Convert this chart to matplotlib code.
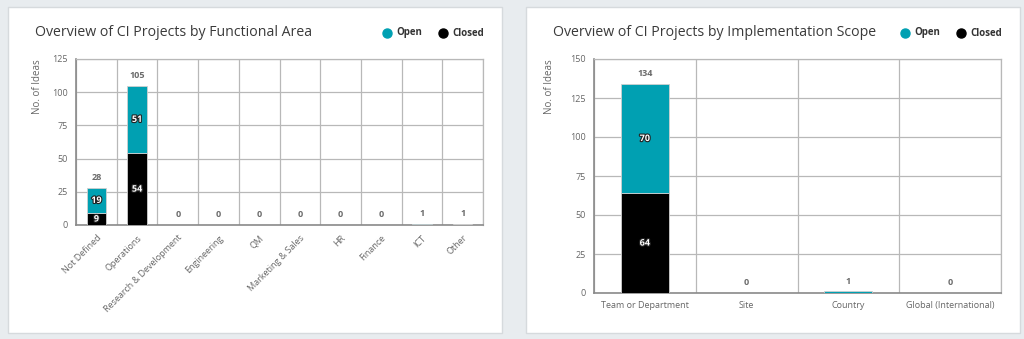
import matplotlib
matplotlib.use("Agg")
import matplotlib.pyplot as plt
from matplotlib.patches import Rectangle
import matplotlib.patheffects as pe
import numpy as np

plt.rcParams['font.family'] = ['Open Sans', 'DejaVu Sans']

# ---- data ----
area_categories = ["Not Defined", "Operations", "Research & Development", "Engineering", "QM",
                   "Marketing & Sales", "HR", "Finance", "ICT", "Other"]
area_closed = [9, 54, 0, 0, 0, 0, 0, 0, 0, 1]
area_open = [19, 51, 0, 0, 0, 0, 0, 0, 1, 0]
area_yticks = [0, 25, 50, 75, 100, 125]

scope_categories = ["Team or Department", "Site", "Country", "Global (International)"]
scope_closed = [64, 0, 0, 0]
scope_open = [70, 0, 1, 0]
scope_yticks = [0, 25, 50, 75, 100, 125, 150]

titles = ["Overview of CI Projects by Functional Area", "Overview of CI Projects by Implementation Scope"]
series_names = ["Open", "Closed"]

OPEN_C = "#00a0b2"
CLOSED_C = "#000000"
GRID_C = "#b8b8b8"
TXT_C = "#666666"

W, H = 1024, 339
fig = plt.figure(figsize=(W / 100, H / 100), dpi=100)
fig.patch.set_facecolor("#e8ecef")

def px_rect(x0, y0, x1, y1):
    return [x0 / W, (H - y1) / H, (x1 - x0) / W, (y1 - y0) / H]

# panels
for (x0, x1) in [(8, 502), (526, 1020)]:
    fig.patches.append(Rectangle((x0 / W, (H - 333) / H), (x1 - x0) / W, (333 - 7) / H,
                                 transform=fig.transFigure, facecolor="white",
                                 edgecolor="#d6dadd", linewidth=1.0, zorder=-5))

def draw(ax_rect, cats, closed, opn, yticks, rotate, title, title_x, leg_x, ylab_x):
    ax = fig.add_axes(px_rect(*ax_rect), zorder=2)
    ax.set_facecolor("white")
    n = len(cats)
    x = np.arange(n)
    w = 0.47
    total = [c + o for c, o in zip(closed, opn)]
    ax.bar(x, closed, w, color=CLOSED_C, edgecolor="#cfcfcf", linewidth=0.6, zorder=3)
    ax.bar(x, opn, w, bottom=closed, color=OPEN_C, edgecolor="#cfcfcf", linewidth=0.6, zorder=3)
    ymax = yticks[-1]
    ax.set_xlim(-0.5, n - 0.5)
    ax.set_ylim(0, ymax)
    ax.set_yticks(yticks)
    ax.set_xticks(x)
    if rotate:
        ax.set_xticklabels(cats, rotation=45, ha="right", rotation_mode="anchor")
    else:
        ax.set_xticklabels(cats)
    ax.tick_params(axis="both", length=0, labelsize=6.5, colors=TXT_C, pad=6)
    ax.set_xticks(np.arange(n + 1) - 0.5, minor=True)
    ax.grid(True, which="minor", axis="x", color=GRID_C, linewidth=0.9, zorder=1)
    ax.grid(True, which="major", axis="y", color=GRID_C, linewidth=0.9, zorder=1)
    ax.set_axisbelow(True)
    ax.tick_params(which="minor", length=0)
    for s in ["top", "right"]:
        ax.spines[s].set_color(GRID_C)
        ax.spines[s].set_linewidth(0.9)
    for s in ["left", "bottom"]:
        ax.spines[s].set_color("#8a8a8a")
        ax.spines[s].set_linewidth(1.2)
    # labels
    fx = [pe.withStroke(linewidth=1.6, foreground="#222222")]
    for i in range(n):
        ax.annotate(str(total[i]), (x[i], total[i]), xytext=(0, 4), textcoords="offset points",
                    ha="center", va="bottom", fontsize=6.5, fontweight="bold", color="#6a6a6a", zorder=5)
        if closed[i] >= 5:
            ax.text(x[i], closed[i] / 2, str(closed[i]), ha="center", va="center", fontsize=6.5,
                    fontweight="bold", color="white", path_effects=fx, zorder=5)
        if opn[i] >= 5:
            ax.text(x[i], closed[i] + opn[i] / 2, str(opn[i]), ha="center", va="center", fontsize=6.5,
                    fontweight="bold", color="white", path_effects=fx, zorder=5)
    # y label
    top_y = ax_rect[1]
    fig.text(ylab_x / W, (H - top_y) / H, "No. of Ideas", rotation=90, ha="center", va="top",
             fontsize=7, color=TXT_C)
    # title
    fig.text(title_x / W, (H - 33) / H, title, ha="left", va="center", fontsize=10.2, color="#3a3a3a")
    # legend
    for (cx, name, col) in [(leg_x, series_names[0], OPEN_C), (leg_x + 56, series_names[1], CLOSED_C)]:
        fig.lines.append(plt.Line2D([cx / W], [(H - 33) / H], marker="o", markersize=6.5,
                                    color=col, transform=fig.transFigure, linestyle="none"))
        fig.text((cx + 9) / W, (H - 33) / H, name, ha="left", va="center", fontsize=7,
                 fontweight="bold", color="#333333")
    return ax

draw((76, 59, 483, 225), area_categories, area_closed, area_open, area_yticks, True,
     titles[0], 35, 387, 38)
draw((594, 59, 1001, 293), scope_categories, scope_closed, scope_open, scope_yticks, False,
     titles[1], 553, 905, 550)

fig.savefig("out.png", dpi=100, facecolor=fig.get_facecolor())
